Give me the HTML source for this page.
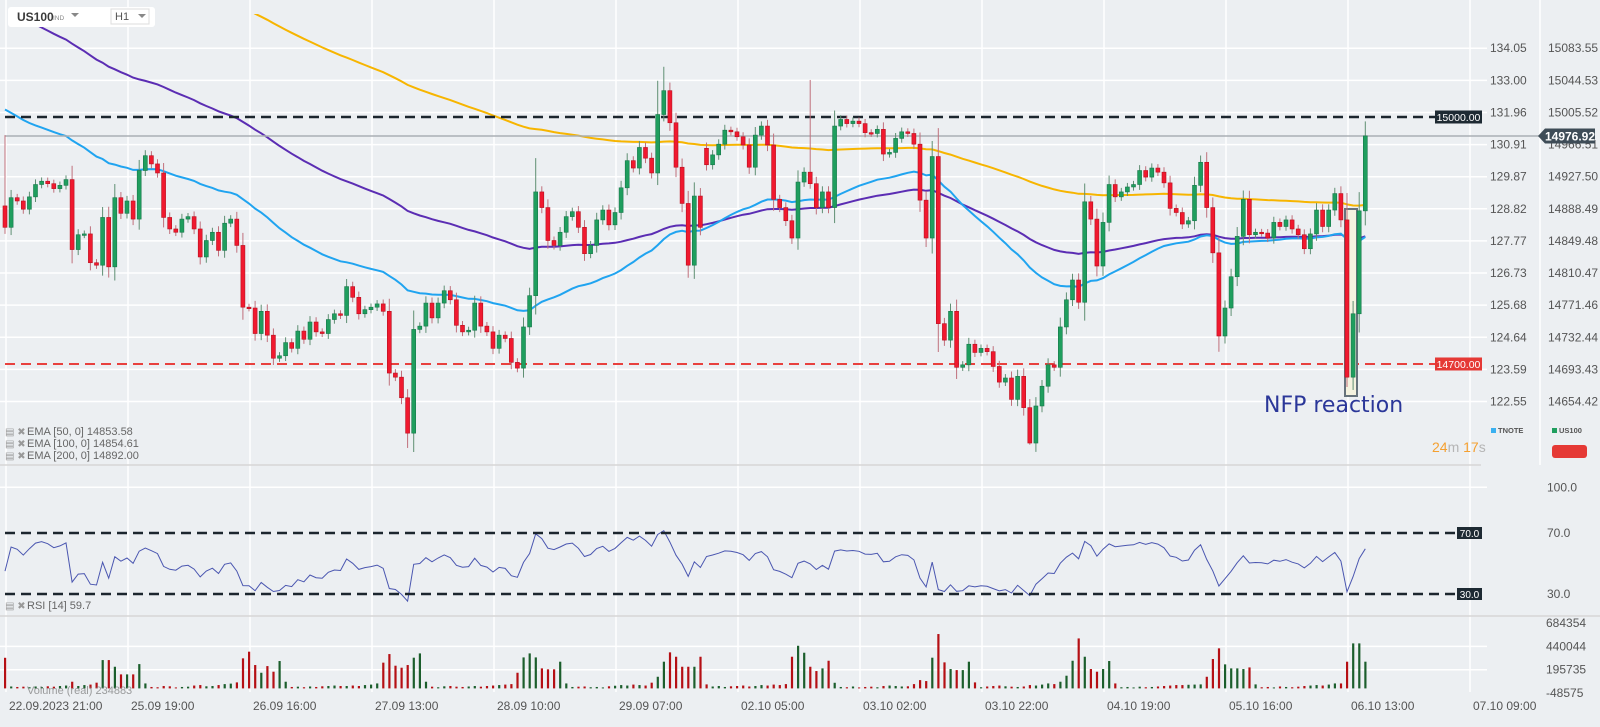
<!DOCTYPE html>
<html><head><meta charset="utf-8"><title>US100 H1</title>
<style>
html,body{margin:0;padding:0;background:#eceff2;}
svg{display:block;font-family:"Liberation Sans",sans-serif;}
</style></head>
<body>
<svg id="chart" width="1600" height="727" viewBox="0 0 1600 727" xmlns="http://www.w3.org/2000/svg">
<rect x="0" y="0" width="1600" height="727" fill="#eceff2"/>
<g id="grid"></g>
<g id="ema"></g>
<g id="levels"></g>
<rect x="1345" y="209" width="12" height="187" fill="#f4f2df" stroke="#66727b" stroke-width="2"/>
<g id="candles"></g>
<g id="rsi"></g>
<g id="vol"></g>
<g id="axes"></g>
<text x="1264" y="412" font-family="DejaVu Sans, sans-serif" font-size="22" fill="#2b3799">NFP reaction</text>
<g>
<rect x="8" y="7" width="147" height="20" rx="3" fill="#ffffff"/>
<text x="17" y="21" font-size="12" font-weight="bold" fill="#3a3a3a">US100</text>
<text x="53" y="20" font-size="6.5" fill="#888">IND</text>
<path d="M71 13 L79 13 L75 17 Z" fill="#888"/>
<rect x="111" y="9" width="38" height="15" fill="#fff" stroke="#dddddd"/>
<text x="115" y="20" font-size="11" fill="#555">H1</text>
<path d="M138 14 L146 14 L142 18 Z" fill="#888"/>
</g>
<g font-size="11" fill="#666">
<text x="5" y="435" font-size="10" fill="#999">▤ ✖</text><text x="27" y="435">EMA [50,  0] 14853.58</text>
<text x="5" y="447" font-size="10" fill="#999">▤ ✖</text><text x="27" y="447">EMA [100,  0] 14854.61</text>
<text x="5" y="459" font-size="10" fill="#999">▤ ✖</text><text x="27" y="459">EMA [200,  0] 14892.00</text>
</g>
<text x="5" y="609" font-size="10" fill="#999">▤ ✖</text>
<text x="27" y="609" font-size="11" fill="#666">RSI [14]  59.7</text>
<text x="27" y="694" font-size="11" fill="#777" opacity="0.7">Volume (real)  234883</text>
<g>
<text x="1432" y="452" font-size="14"><tspan fill="#f5a030">24</tspan><tspan fill="#b5b5b5">m </tspan><tspan fill="#f5a030">17</tspan><tspan fill="#b5b5b5">s</tspan></text>
</g>
<g>
<rect x="1491" y="428" width="5" height="5" fill="#3ab0f0"/>
<text x="1498" y="433" font-size="7.5" font-weight="bold" fill="#555">TNOTE</text>
<rect x="1552" y="428" width="5" height="5" fill="#1f9e5e"/>
<text x="1559" y="433" font-size="7.5" font-weight="bold" fill="#555">US100</text>
<rect x="1552" y="445" width="35" height="13" rx="3" fill="#e53935"/>
</g>
</svg>
<script>
// ---- data ----
const closes = [14866,14902,14898,14888,14903,14918,14922,14919,14913,14917,14924,14839,14857,14858,14823,14820,14878,14818,14902,14883,
14898,14876,14935,14953,14943,14932,14878,14864,14860,14876,14879,14864,14830,14850,14860,14838,14871,14876,14844,14769,
14768,14737,14764,14735,14707,14710,14726,14719,14740,14730,14751,14739,14737,14754,14761,14759,14794,14781,14761,14766,
14769,14773,14764,14689,14684,14659,14616,14742,14746,14774,14756,14774,14789,14778,14747,14739,14741,14774,14746,14739,
14719,14735,14731,14702,14695,14745,14783,14909,14890,14850,14844,14860,14879,14885,14866,14834,14844,14875,14887,14869,
14884,14914,14947,14938,14963,14950,14932,15003,15032,14993,14939,14895,14820,14904,14866,14942,14954,14967,14984,14982,
14976,14966,14939,14978,14989,14966,14900,14890,14874,14853,14921,14933,14919,14890,14909,14890,14989,14997,14992,14995,
14992,14981,14980,14985,14955,14957,14974,14982,14980,14967,14899,14853,14952,14749,14729,14764,14696,14699,14724,14714,
14719,14715,14697,14678,14683,14657,14685,14647,14604,14649,14673,14699,14696,14745,14778,14802,14775,14897,14876,14819,
14872,14918,14903,14909,14915,14918,14935,14927,14938,14933,14920,14889,14884,14870,14874,14917,14945,14890,14835,14734,
14768,14806,14855,14900,14857,14860,14859,14853,14872,14867,14875,14864,14857,14840,14858,14887,14867,14887,14907,14875,
14684,14761,14886,14977];
const firstOpen = 14892;
const gapOpens = {115:14962};
const highOverrides = {0:14978,87:14950,107:15044,108:15061,132:15045};
const lowOverrides = {66:14598,168:14602,220:14672};
const volumes = [321,20,15,18,12,20,15,22,18,25,30,70,25,35,40,60,297,297,227,147,
147,147,255,52,15,12,25,22,10,15,18,30,35,22,25,35,45,50,63,315,
385,245,164,234,175,287,70,15,18,12,20,15,22,25,30,25,25,30,25,35,
40,52,270,360,238,217,245,322,367,70,18,12,22,25,18,15,20,25,18,25,
30,35,40,45,164,325,367,325,210,200,200,280,52,15,18,20,12,15,10,22,
28,35,30,40,35,30,60,122,280,378,332,227,227,227,332,42,20,25,15,22,
25,30,20,25,35,30,40,35,45,332,447,374,227,182,210,290,59,15,12,20,
10,15,18,12,25,30,25,20,22,45,87,77,322,570,273,203,192,192,280,63,
12,20,25,30,22,18,15,20,35,30,40,52,45,70,133,290,524,332,203,175,
203,287,52,12,15,10,18,12,15,20,25,30,35,35,38,40,42,122,308,420,
252,210,210,203,220,42,12,15,10,20,15,12,18,25,30,35,30,40,52,52,
280,472,472,280];
const us100Ticks = [15083.55,15044.53,15005.52,14966.51,14927.50,14888.49,14849.48,14810.47,14771.46,14732.44,14693.43,14654.42];
const tnoteTicks = ["134.05","133.00","131.96","130.91","129.87","128.82","127.77","126.73","125.68","124.64","123.59","122.55"];
const dateLabels = ["22.09.2023  21:00","25.09  19:00","26.09  16:00","27.09  13:00","28.09  10:00","29.09  07:00","02.10  05:00","03.10  02:00","03.10  22:00","04.10  19:00","05.10  16:00","06.10  13:00","07.10  09:00"];
const rsiTicks = [100,70,30];
const volTicks = [684354,440044,195735,-48575];
const levelResist = 15000, levelSupport = 14700, lastPrice = 14976.92;
const emaSeeds = {e50:15015, e100:15140, e200:15259};

// ---- axes ----
const NS="http://www.w3.org/2000/svg";
const xI = i => 5 + i*6.1;
const yP = p => 117 + (15000 - p)/1.2146;
const yR = v => 533 + (70 - v)*1.525;
const yV = v => 688.4 - v/10485;
function mk(tag, attrs, parent){const e=document.createElementNS(NS,tag);for(const k in attrs)e.setAttribute(k,attrs[k]);parent.appendChild(e);return e;}
const G=id=>document.getElementById(id);
const grid=G('grid'), emaG=G('ema'), lev=G('levels'), cg=G('candles'), rg=G('rsi'), vg=G('vol'), ax=G('axes');

// grid
us100Ticks.forEach((t,k)=>{const l=mk('line',{x1:0,x2:1487,y1:yP(t),y2:yP(t),stroke:'#ffffff','stroke-width':1.5},grid);

});
dateLabels.forEach((d,k)=>{const x=xI(k*20)+1;const l=mk('line',{x1:x,x2:x,y1:0,y2:692,stroke:'#ffffff','stroke-width':1.5},grid);


const t=mk('text',{x:x+3,y:710,'font-size':12,fill:'#555'},ax);t.textContent=d;

});
[rsiTicks[0]].forEach(v=>{const l=mk('line',{x1:0,x2:1487,y1:yR(v),y2:yR(v),stroke:'#fff','stroke-width':1.5},grid);

});
[volTicks[1],volTicks[2]].forEach(v=>{const l=mk('line',{x1:0,x2:1487,y1:yV(v),y2:yV(v),stroke:'#fff','stroke-width':1.5},grid);

});
[[465,1481],[616,1600]].forEach(s=>{const l=mk('line',{x1:0,x2:s[1],y1:s[0],y2:s[0],stroke:'#d6d6d6','stroke-width':1.5},grid);

});
const sep=mk('line',{x1:1540,x2:1540,y1:0,y2:465,stroke:'#ffffff','stroke-width':1.5},grid);



// opens
const opens = closes.map((c,i)=> i===0 ? firstOpen : (gapOpens[i]!==undefined ? gapOpens[i] : closes[i-1]));

// EMAs
function ema(period, seed){const a=2/(period+1);let e=seed;return closes.map(c=>(e=e+a*(c-e)));}
const clip=mk('clipPath',{id:'plotclip'},emaG);mk('rect',{x:0,y:14,width:1487,height:450},clip);
[[ema(200,emaSeeds.e200),'#f7b500','ema200-line'],[ema(100,emaSeeds.e100),'#5b2db3','ema100-line'],[ema(50,emaSeeds.e50),'#20a4f0','ema50-line']].forEach(s=>{
 const d=s[0].map((v,i)=>(i?'L':'M')+xI(i).toFixed(1)+' '+yP(v).toFixed(1)).join(' ');
 const p=mk('path',{d:d,fill:'none',stroke:s[1],'stroke-width':2,'clip-path':'url(#plotclip)'},emaG);
 
 
});

// levels
const lr=mk('line',{x1:5,x2:1435,y1:yP(levelResist),y2:yP(levelResist),stroke:'#1c262e','stroke-width':2.5,'stroke-dasharray':'10 6'},lev);


const ls=mk('line',{x1:5,x2:1435,y1:yP(levelSupport),y2:yP(levelSupport),stroke:'#e8413e','stroke-width':2,'stroke-dasharray':'10 6'},lev);


const lp=mk('line',{x1:5,x2:1540,y1:yP(lastPrice),y2:yP(lastPrice),stroke:'#a9afb4','stroke-width':1.5},lev);



// candles
closes.forEach((c,i)=>{
 const o=opens[i], up=c>=o, x=xI(i);
 const top=Math.max(o,c), bot=Math.min(o,c), rng=top-bot;
 const hi = highOverrides[i]!==undefined ? highOverrides[i] : top+rng*0.15+4;
 const lo = lowOverrides[i]!==undefined ? lowOverrides[i] : bot-rng*0.15-4;
 const w=mk('line',{x1:x,x2:x,y1:yP(hi),y2:yP(lo),stroke:up?'#5f8f73':'#c0707c','stroke-width':1},cg);
 
 
 const h=Math.max(1.5,yP(bot)-yP(top));
 const b=mk('rect',{x:x-2,y:yP(top),width:4,height:h,fill:up?'#1f9e5e':'#f0192f',stroke:up?'#17784a':'#b8101f','stroke-width':0.6},cg);
 
 
});

// RSI
const rsi=[];{let ag=5,al=5;closes.forEach((c,i)=>{if(i===0){rsi.push(45);return;}const d=c-closes[i-1];ag=(ag*13+Math.max(d,0))/14;al=(al*13+Math.max(-d,0))/14;rsi.push(100-100/(1+ag/al));});}
const rp=mk('path',{d:rsi.map((v,i)=>(i?'L':'M')+xI(i).toFixed(1)+' '+yR(v).toFixed(1)).join(' '),fill:'none',stroke:'#4a56b0','stroke-width':1},rg);


[rsiTicks[1],rsiTicks[2]].forEach(v=>{const l=mk('line',{x1:5,x2:1457,y1:yR(v),y2:yR(v),stroke:'#1c262e','stroke-width':2.5,'stroke-dasharray':'10 6'},rg);


const b=mk('rect',{x:1457,y:yR(v)-6,width:25,height:12,fill:'#1e2a33'},rg);


const t=mk('text',{x:1469.5,y:yR(v)+4,'font-size':10,fill:'#fff','text-anchor':'middle'},rg);t.textContent=v.toFixed(1);

});
rsiTicks.forEach(v=>{const t=mk('text',{x:1547,y:yR(v)+4,'font-size':12,fill:'#555'},ax);t.textContent=v.toFixed(1);

});

// Volume
volumes.forEach((v,i)=>{const val=v*1000;const up=closes[i]>=opens[i];
 const r=mk('rect',{x:xI(i)-1,y:yV(val),width:2.2,height:yV(0)-yV(val),fill:up?'#1b5e2c':'#b50f14'},vg);
 
 });
volTicks.forEach(v=>{const t=mk('text',{x:1546,y:yV(v)+4,'font-size':12,fill:'#555'},ax);t.textContent=String(v);

});

// price axes
us100Ticks.forEach((t,k)=>{const y=yP(t)+4;
 const a=mk('text',{x:1490,y:y,'font-size':12,fill:'#555'},ax);a.textContent=tnoteTicks[k];
 
 
 const b=mk('text',{x:1548,y:y,'font-size':12,fill:'#555'},ax);b.textContent=t.toFixed(2);
 
 });
function tag(y,txt,fill,name){const r=mk('rect',{x:1435,y:y-6.5,width:47,height:13,fill:fill},ax);
 
 
 const t=mk('text',{x:1458.5,y:y+4,'font-size':10.5,fill:'#fff','text-anchor':'middle'},ax);t.textContent=txt;
 
 }
tag(yP(levelResist),levelResist.toFixed(2),'#1e2a33','resistance-tag');
tag(yP(levelSupport),levelSupport.toFixed(2),'#e53935','support-tag');
{const y=yP(lastPrice);
 const p=mk('path',{d:`M1538 ${y} L1545 ${y-7.5} L1595 ${y-7.5} L1595 ${y+7.5} L1545 ${y+7.5} Z`,fill:'#3e4c57'},ax);
 
 
 const t=mk('text',{x:1570,y:y+4.5,'font-size':12,'font-weight':'bold',fill:'#fff','text-anchor':'middle'},ax);t.textContent=lastPrice.toFixed(2);
 
 }
</script>
</body></html>
